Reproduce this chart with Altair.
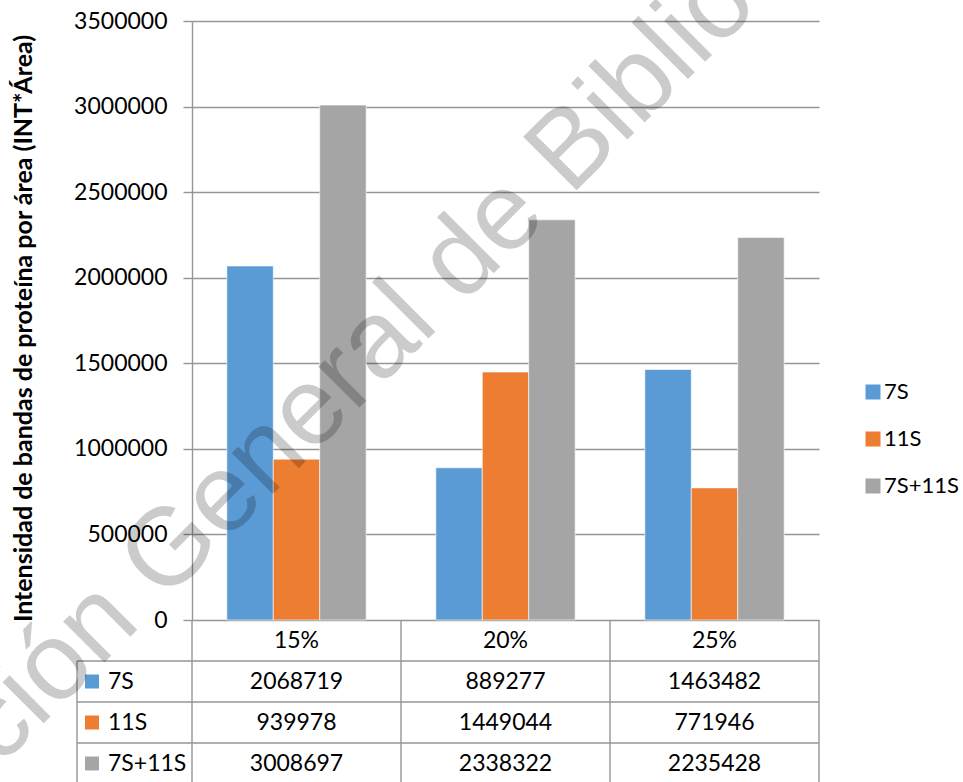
import altair as alt
import pandas as pd

# Concentrations on the x axis and the protein fractions measured
concentraciones = ["15%", "20%", "25%"]
fracciones = ["7S", "11S", "7S+11S"]
valores_7s = [2068719, 889277, 1463482]
valores_11s = [939978, 1449044, 771946]
valores_total = [3008697, 2338322, 2235428]
colores = ["#5B9BD5", "#ED7D31", "#A5A5A5"]
ticks_y = [0, 500000, 1000000, 1500000, 2000000, 2500000, 3000000, 3500000]
titulo_y = "Intensidad de bandas de proteína por área (INT*Área)"
marca_agua = "Dirección General de Bibliotecas"

# Long table: one row per (concentration, fraction)
registros = []
for fr, vals in zip(fracciones, [valores_7s, valores_11s, valores_total]):
    for c, v in zip(concentraciones, vals):
        registros.append({"conc": c, "fraccion": fr, "valor": v, "texto": str(v)})
df = pd.DataFrame(registros)

filas = ["encabezado"] + fracciones
df_enc = pd.DataFrame({"conc": concentraciones, "fila": ["encabezado"] * 3})
df_fr = pd.DataFrame({"fraccion": fracciones})
df_ultima = pd.DataFrame({"fraccion": [fracciones[-1]]})
df_col = pd.DataFrame({"conc": concentraciones})
df_col_fin = pd.DataFrame({"conc": [concentraciones[-1]]})

W = 627
H_BARRAS = 599
TABLA = [599, 763]
LINEA = "#969696"
FUENTE = "Lato"
TAM = 23

color = alt.Color(
    "fraccion:N",
    scale=alt.Scale(domain=fracciones, range=colores),
    legend=alt.Legend(
        orient="none", legendX=670, legendY=360, title=None,
        symbolType="square", symbolSize=225, symbolStrokeWidth=0,
        labelFont=FUENTE, labelFontSize=22, labelColor="black",
        labelOffset=0, rowPadding=25, padding=0,
    ),
)
color_sin_leyenda = alt.Color("fraccion:N", scale=alt.Scale(domain=fracciones, range=colores), legend=None)

x_barras = alt.X("conc:N", sort=concentraciones, axis=None,
                 scale=alt.Scale(domain=concentraciones, paddingInner=1/3, paddingOuter=1/6))
x_tabla = alt.Scale(domain=concentraciones, paddingInner=0, paddingOuter=0)
y_tabla = alt.Scale(domain=filas, range=TABLA, paddingInner=0, paddingOuter=0)

barras = alt.Chart(df).mark_bar(stroke="white", strokeWidth=0.6).encode(
    x=x_barras,
    xOffset=alt.XOffset("fraccion:N", sort=fracciones,
                        scale=alt.Scale(domain=fracciones, paddingInner=0, paddingOuter=0)),
    y=alt.Y("valor:Q",
            scale=alt.Scale(domain=[0, 3500000], range=[H_BARRAS, 0], nice=False),
            axis=alt.Axis(
                values=ticks_y, format="d", grid=True,
                gridColor=LINEA, gridWidth=1.4, domainColor=LINEA, domainWidth=1.4,
                tickColor=LINEA, tickWidth=1.4, tickSize=9,
                labelFont=FUENTE, labelFontSize=TAM, labelColor="black", labelPadding=16,
                title=titulo_y, titleFont=FUENTE, titleFontSize=25, titleFontWeight="bold",
                titleColor="black", titleX=-161, titleY=307, titleAngle=270,
                titleBaseline="alphabetic", titleLimit=800,
            )),
    color=color,
)

# Data table beneath the plot
encabezado = alt.Chart(df_enc).mark_text(font=FUENTE, fontSize=TAM, color="black").encode(
    x=alt.X("conc:N", scale=x_tabla, axis=None, bandPosition=0.5),
    y=alt.Y("fila:N", scale=y_tabla, axis=None, bandPosition=0.5),
    text="conc:N",
)
celdas = alt.Chart(df).mark_text(font=FUENTE, fontSize=TAM, color="black").encode(
    x=alt.X("conc:N", scale=x_tabla, axis=None, bandPosition=0.5),
    y=alt.Y("fraccion:N", scale=y_tabla, axis=None, bandPosition=0.5),
    text="texto:N",
)
claves = alt.Chart(df_fr).mark_square(size=196, opacity=1).encode(
    x=alt.value(-100),
    y=alt.Y("fraccion:N", scale=y_tabla, axis=None, bandPosition=0.5),
    color=color_sin_leyenda,
)
nombres = alt.Chart(df_fr).mark_text(font=FUENTE, fontSize=TAM, color="black", align="left").encode(
    x=alt.value(-84),
    y=alt.Y("fraccion:N", scale=y_tabla, axis=None, bandPosition=0.5),
    text="fraccion:N",
)
lineas_h = alt.Chart(df_fr).mark_rule(color=LINEA, strokeWidth=1.4).encode(
    x=alt.value(-115), x2=alt.value(W),
    y=alt.Y("fraccion:N", scale=y_tabla, axis=None, bandPosition=0),
)
linea_fondo = alt.Chart(df_ultima).mark_rule(color=LINEA, strokeWidth=1.4).encode(
    x=alt.value(-115), x2=alt.value(W),
    y=alt.Y("fraccion:N", scale=y_tabla, axis=None, bandPosition=1),
)
lineas_v = alt.Chart(df_col).mark_rule(color=LINEA, strokeWidth=1.4).encode(
    x=alt.X("conc:N", scale=x_tabla, axis=None, bandPosition=0),
    y=alt.value(TABLA[0]), y2=alt.value(TABLA[1]),
)
linea_der = alt.Chart(df_col_fin).mark_rule(color=LINEA, strokeWidth=1.4).encode(
    x=alt.X("conc:N", scale=x_tabla, axis=None, bandPosition=1),
    y=alt.value(TABLA[0]), y2=alt.value(TABLA[1]),
)
borde_izq = alt.Chart(df_ultima).mark_rule(color=LINEA, strokeWidth=1.4).encode(
    x=alt.value(-115), y=alt.value(640), y2=alt.value(TABLA[1]),
)

# Semi-transparent diagonal watermark
agua = alt.Chart(pd.DataFrame({"t": [marca_agua]})).mark_text(
    font="Liberation Sans", fontSize=110, angle=315, align="left", baseline="alphabetic",
    color="black", opacity=0.2,
).encode(x=alt.value(-374), y=alt.value(928), text="t:N")

chart = alt.layer(
    lineas_h, linea_fondo, lineas_v, linea_der, borde_izq,
    barras, encabezado, celdas, claves, nombres, agua,
).resolve_scale(x="independent", y="independent").properties(
    width=W, height=761,
    autosize=alt.AutoSizeParams(type="none"),
    padding={"left": 192, "top": 21, "right": 144, "bottom": 0},
    background="white",
).configure_view(stroke=None)

chart.save("out.html", embed_options={"renderer": "svg", "actions": False})
